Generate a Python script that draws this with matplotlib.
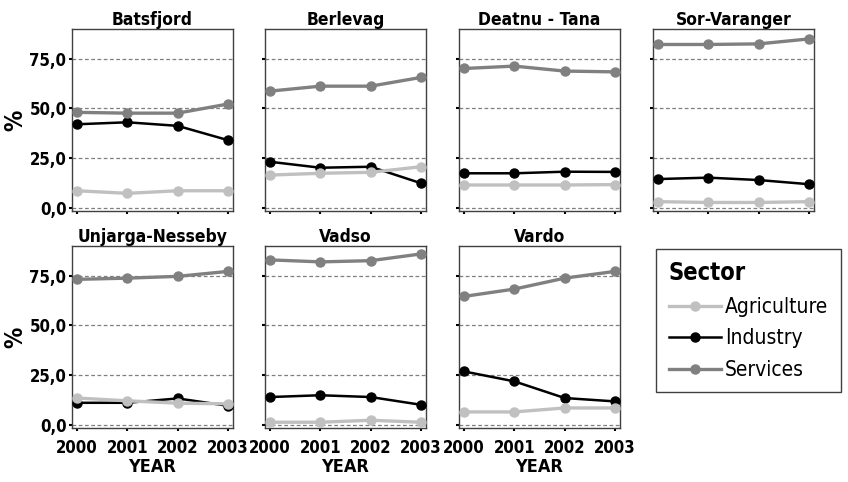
import matplotlib
matplotlib.use("Agg")
from matplotlib import pyplot as plt

plt.rcParams['font.family'] = ['DejaVu Sans']
plt.rcParams['font.stretch'] = 'condensed'

years = [2000, 2001, 2002, 2003]
regions = ["Batsfjord", "Berlevag", "Deatnu - Tana", "Sor-Varanger",
           "Unjarga-Nesseby", "Vadso", "Vardo"]
agriculture = [
    [8.5, 7.2, 8.5, 8.5],
    [16.4, 17.3, 17.8, 20.6],
    [11.4, 11.4, 11.4, 11.6],
    [3.0, 2.6, 2.6, 3.0],
    [13.4, 12.0, 10.8, 10.5],
    [1.2, 1.2, 2.2, 1.2],
    [6.4, 6.4, 8.4, 8.4],
]
industry = [
    [42.0, 43.0, 41.2, 34.0],
    [23.1, 20.1, 20.6, 12.3],
    [17.3, 17.3, 18.1, 18.0],
    [14.4, 15.1, 13.9, 11.8],
    [11.0, 11.0, 13.2, 9.5],
    [13.9, 14.8, 13.9, 10.0],
    [26.8, 21.8, 13.4, 11.7],
]
services = [
    [48.0, 47.6, 47.6, 52.2],
    [58.7, 61.2, 61.2, 65.6],
    [70.1, 71.3, 68.8, 68.4],
    [82.2, 82.2, 82.5, 85.0],
    [73.2, 73.8, 74.7, 77.2],
    [83.0, 82.0, 82.6, 86.0],
    [64.6, 68.3, 73.8, 77.2],
]
yticks = [0, 25, 50, 75]
ytick_labels = ["0,0", "25,0", "50,0", "75,0"]

# label, data, colour, line width, z-order (agriculture drawn over industry)
sectors = [("Agriculture", agriculture, "#c0c0c0", 2.4, 4),
           ("Industry", industry, "#000000", 1.8, 3),
           ("Services", services, "#808080", 2.4, 5)]

W, H = 848, 482
fig = plt.figure(figsize=(W / 100, H / 100), dpi=100)

col_x = [72, 265, 459, 653]
row_top = [29, 246]
pw, ph = 161, 182

for i, name in enumerate(regions):
    r, c = divmod(i, 4)
    ax = fig.add_axes([col_x[c] / W, (H - row_top[r] - ph) / H, pw / W, ph / H])
    for y in yticks:
        ax.axhline(y, color="#7f7f7f", lw=0.9, ls=(0, (3, 2)), zorder=1)
    for label, data, colr, lw, z in sectors:
        ax.plot(years, data[i], color=colr, lw=lw, marker="o", ms=6.5,
                label=label, zorder=z)
    ax.set_xlim(1999.9, 2003.1)
    ax.set_ylim(-1.7, 90)
    ax.set_title(name, fontsize=12.5, fontweight="bold", pad=3)
    ax.set_xticks(years)
    ax.set_yticks(yticks)
    ax.tick_params(length=2, width=1.5, direction="out", pad=2)
    ax.tick_params(axis="x", pad=6)
    for s in ax.spines.values():
        s.set_color("#404040")
        s.set_linewidth(1)
    if c == 0:
        ax.set_yticklabels(ytick_labels, fontsize=12, fontweight="bold")
        ax.set_ylabel("%", fontsize=17, fontweight="bold")
        ax.yaxis.set_label_coords(-0.28, 0.5)
    else:
        ax.set_yticklabels([])
    if r == 1:
        ax.set_xticklabels([str(y) for y in years], fontsize=12, fontweight="bold")
        ax.set_xlabel("YEAR", fontsize=13, fontweight="bold", labelpad=1)
    else:
        ax.set_xticklabels([])

handles, labels = ax.get_legend_handles_labels()
leg = fig.legend(handles, labels, title="Sector", loc="upper left",
                 bbox_to_anchor=(656 / W, (H - 249) / H), fontsize=15,
                 title_fontproperties={"weight": "bold", "size": 17,
                                       "stretch": "condensed"},
                 fancybox=False, edgecolor="#404040", framealpha=1,
                 handlelength=2.5, handletextpad=0.2, borderpad=0.6,
                 labelspacing=0.55, borderaxespad=0)
leg._legend_box.align = "left"
leg.get_frame().set_linewidth(1)

fig.savefig("out.png", dpi=100)
